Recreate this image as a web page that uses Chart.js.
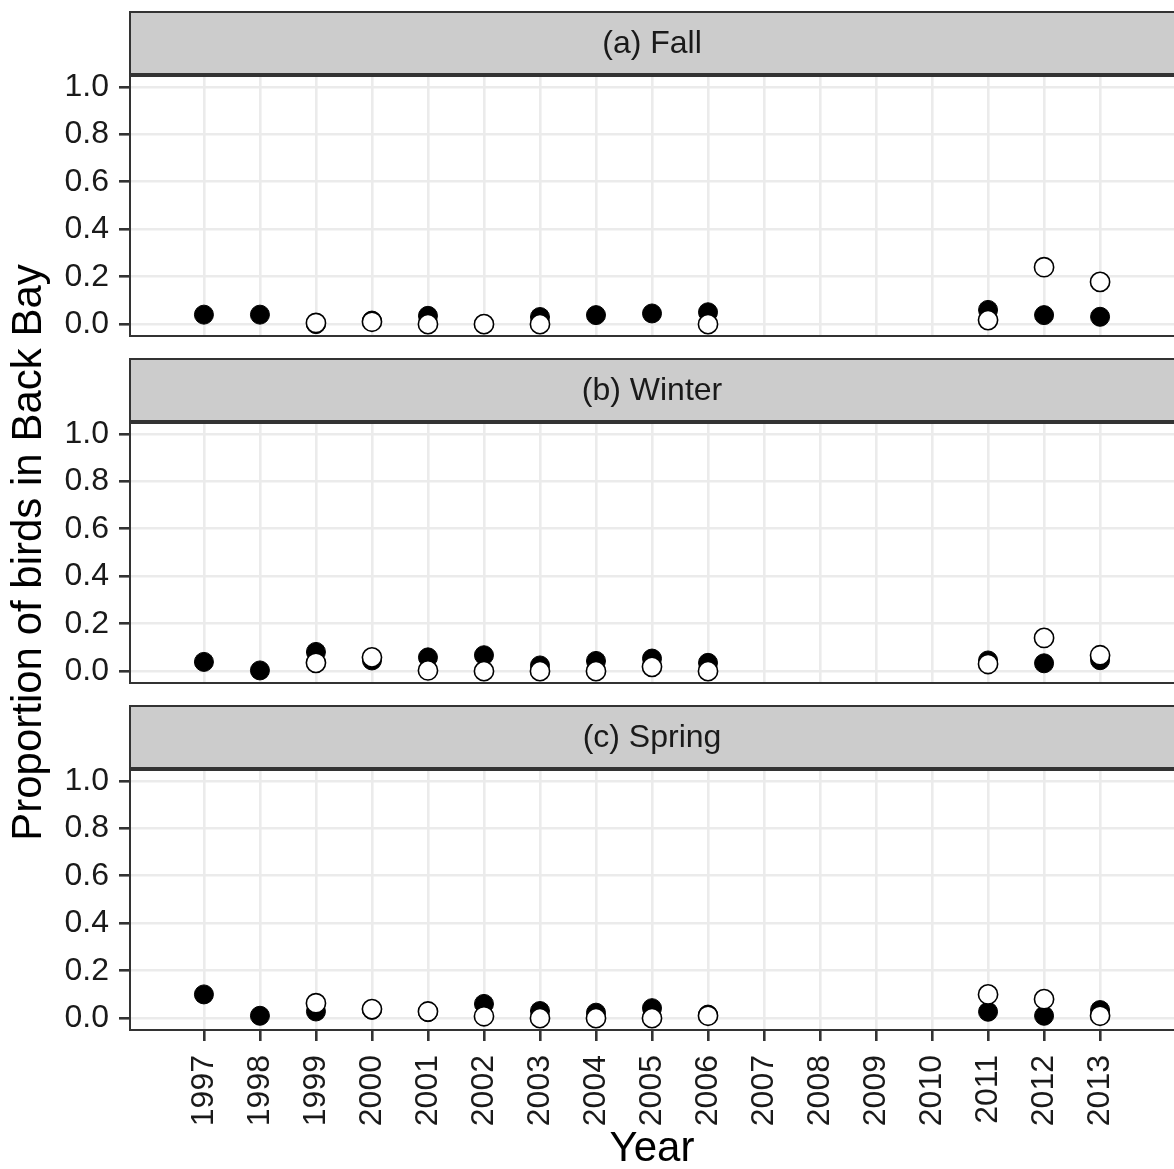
<!doctype html>
<html lang="en">
<head>
<meta charset="utf-8">
<title>Proportion of birds in Back Bay</title>
<script src="https://cdn.jsdelivr.net/npm/chart.js@4.4.0/dist/chart.umd.min.js"></script>
<style>
  body { margin: 0; background: #fff; }
  #wrap { position: relative; width: 1174px; height: 1169px; }
  #wrap canvas { position: absolute; left: 0; top: 0; }
</style>
</head>
<body>
<div id="wrap">
  <canvas id="fall" width="1174" height="1169"></canvas>
  <canvas id="winter" width="1174" height="1169"></canvas>
  <canvas id="spring" width="1174" height="1169"></canvas>
</div>
<script>
// data (null = no point)
const years = [1997, 1998, 1999, 2000, 2001, 2002, 2003, 2004, 2005, 2006, 2007, 2008, 2009, 2010, 2011, 2012, 2013];
const yTicks = [0, 0.1, 0.2, 0.3, 0.4, 0.5, 0.6, 0.7, 0.8, 0.9, 1.0];
const panelTitles = ['(a) Fall', '(b) Winter', '(c) Spring'];

const fallFilled = [0.04, 0.04, 0.0, 0.015, 0.035, 0.0, 0.03, 0.038, 0.045, 0.05, null, null, null, null, 0.06, 0.038, 0.031];
const fallOpen   = [null, null, 0.005, 0.01, 0.0, 0.0, 0.0, null, null, 0.0, null, null, null, null, 0.017, 0.24, 0.178];

const winterFilled = [0.039, 0.003, 0.081, 0.045, 0.058, 0.067, 0.024, 0.043, 0.053, 0.035, null, null, null, null, 0.045, 0.033, 0.046];
const winterOpen   = [null, null, 0.035, 0.058, 0.003, 0.0, 0.0, 0.0, 0.018, 0.0, null, null, null, null, 0.03, 0.14, 0.067];

const springFilled = [0.10, 0.01, 0.028, 0.035, 0.025, 0.06, 0.03, 0.023, 0.042, 0.015, null, null, null, null, 0.027, 0.01, 0.034];
const springOpen   = [null, null, 0.063, 0.038, 0.028, 0.008, 0.0, 0.0, 0.0, 0.01, null, null, null, null, 0.10, 0.08, 0.01];

Chart.defaults.font.family = '"Liberation Sans", Arial, Helvetica, sans-serif';

const W = 1174, H = 1169;
const panelTops = [75, 422, 769];
const panelH = 261;
const stripH = 63;
const xAxisH = 139;

const stripPlugin = {
    id: 'strip',
    beforeDraw(chart, args, opts) {
        const { ctx, chartArea: a } = chart;
        ctx.save();
        ctx.fillStyle = '#cccccc';
        ctx.fillRect(a.left, a.top - stripH, a.right - a.left, stripH);
        ctx.strokeStyle = '#333333';
        ctx.lineWidth = 2;
        ctx.strokeRect(a.left, a.top - stripH, a.right - a.left + 4, stripH);
        ctx.fillStyle = '#1a1a1a';
        ctx.font = '32px "Liberation Sans", Arial, sans-serif';
        ctx.textAlign = 'center';
        ctx.textBaseline = 'middle';
        ctx.fillText(opts.text, (a.left + a.right) / 2, a.top - stripH / 2 + 1);
        ctx.restore();
    },
    afterDraw(chart) {
        const { ctx, chartArea: a } = chart;
        ctx.save();
        ctx.strokeStyle = '#333333';
        ctx.lineWidth = 2;
        ctx.strokeRect(a.left, a.top, a.right - a.left + 4, a.bottom - a.top);
        ctx.lineWidth = 4;
        ctx.beginPath();
        ctx.moveTo(a.left - 1, a.top);
        ctx.lineTo(a.right, a.top);
        ctx.stroke();
        ctx.restore();
    }
};

function points(arr) {
    return years.map((yr, i) => ({ x: yr, y: arr[i] }));
}

function makePanel(id, idx, filled, open) {
    const top = panelTops[idx];
    const isBottom = idx === 2;
    const xh = isBottom ? xAxisH : 0;
    const tickFont = { size: 32 };

    new Chart(document.getElementById(id), {
        type: 'scatter',
        data: {
            datasets: [
                {
                    label: 'filled',
                    data: points(filled),
                    backgroundColor: '#000000',
                    borderColor: '#000000',
                    borderWidth: 1,
                    pointRadius: 9.5,
                    order: 2,
                    clip: false
                },
                {
                    label: 'open',
                    data: points(open),
                    backgroundColor: '#ffffff',
                    borderColor: '#000000',
                    borderWidth: 1.6,
                    pointRadius: 9.6,
                    order: 1,
                    clip: false
                }
            ]
        },
        options: {
            responsive: false,
            animation: false,
            events: [],
            layout: {
                autoPadding: false,
                padding: { top: top, bottom: H - top - panelH - xh, left: 0, right: 0 }
            },
            plugins: {
                legend: { display: false },
                tooltip: { enabled: false },
                strip: { text: panelTitles[idx] }
            },
            scales: {
                x: {
                    type: 'linear',
                    min: 1995.68,
                    max: 2014.32,
                    afterBuildTicks: s => { s.ticks = years.map(v => ({ value: v })); },
                    afterFit: s => { s.height = xh; s.paddingLeft = 0; s.paddingRight = 0; },
                    border: { display: false },
                    grid: {
                        color: '#ebebeb',
                        lineWidth: 2.6,
                        drawTicks: isBottom,
                        tickLength: 11,
                        tickColor: '#333333',
                        tickWidth: 2.6
                    },
                    ticks: {
                        display: isBottom,
                        autoSkip: false,
                        minRotation: 90,
                        maxRotation: 90,
                        padding: 14,
                        color: '#1a1a1a',
                        font: tickFont,
                        callback: v => String(v)
                    },
                    title: {
                        display: isBottom,
                        text: 'Year',
                        color: '#000000',
                        font: { size: 42, lineHeight: 0.9 },
                        padding: { top: 0, bottom: 1 }
                    }
                },
                y: {
                    min: -0.05,
                    max: 1.05,
                    afterBuildTicks: s => { s.ticks = yTicks.map(v => ({ value: v })); },
                    afterFit: s => { s.width = 130; s.paddingTop = 0; s.paddingBottom = 0; },
                    border: { display: false },
                    grid: {
                        color: '#ebebeb',
                        lineWidth: c => (Math.round(c.tick.value * 10) % 2 === 0 ? 2.6 : 1.3),
                        tickLength: 11,
                        tickColor: c => (Math.round(c.tick.value * 10) % 2 === 0 ? '#333333' : 'rgba(0,0,0,0)'),
                        tickWidth: 2.6
                    },
                    ticks: {
                        padding: 10,
                        color: '#1a1a1a',
                        font: tickFont,
                        callback: v => (Math.round(v * 10) % 2 === 0 ? v.toFixed(1) : '')
                    },
                    title: {
                        display: idx === 1,
                        text: 'Proportion of birds in Back Bay',
                        color: '#000000',
                        font: { size: 42, lineHeight: 1.2 },
                        padding: { top: 4, bottom: 0 }
                    }
                }
            }
        },
        plugins: [stripPlugin]
    });
}

makePanel('fall', 0, fallFilled, fallOpen);
makePanel('winter', 1, winterFilled, winterOpen);
makePanel('spring', 2, springFilled, springOpen);
</script>
</body>
</html>
